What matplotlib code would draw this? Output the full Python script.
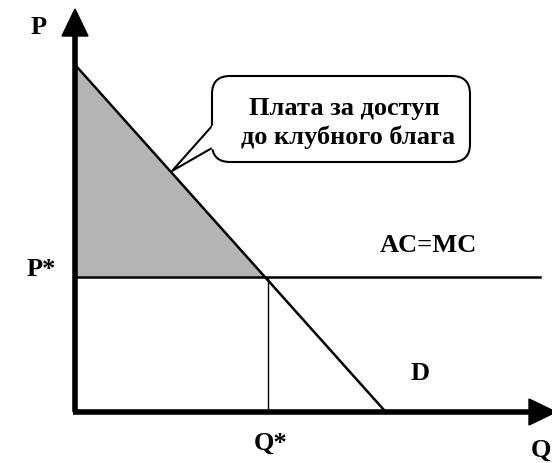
import matplotlib.pyplot as plt
import numpy as np
from matplotlib.patches import FancyBboxPatch, Polygon

# demand line (Q, P) in picture units
demand_q = [77, 384]
demand_p = [68, 411]
p_star = 278
q_star = 268
ac_mc_end = 540

callout_lines = ['Плата за доступ', 'до клубного блага']

fig = plt.figure(figsize=(5.52, 4.64), dpi=100)
ax = fig.add_axes([0, 0, 1, 1])
ax.set_xlim(0, 552)
ax.set_ylim(464, 0)
ax.axis('off')

font = dict(family=['Liberation Serif', 'DejaVu Serif'], weight='bold', fontsize=19)

# shaded area under demand, above P*
q_cross = np.interp(p_star, demand_p, demand_q)
ax.fill([75, 75, q_cross], [demand_p[0], p_star, p_star],
        facecolor='#b4b4b4', linewidth=0, zorder=1)

# axes with arrows
ax.plot([75, 75], [413, 35], color='black', lw=4, solid_capstyle='butt', zorder=4)
ax.plot([73, 530], [413, 413], color='black', lw=4, solid_capstyle='butt', zorder=4)
ax.add_patch(Polygon([[62, 37], [88, 37], [75, 10]], closed=True, color='black', zorder=4))
ax.add_patch(Polygon([[529, 400], [529, 426], [556, 413]], closed=True, color='black',
                     clip_on=False, zorder=4))

# lines
ax.plot(demand_q, demand_p, color='black', lw=1.8, zorder=3)
ax.plot([75, ac_mc_end], [p_star, p_star], color='black', lw=1.8, zorder=3)
ax.plot([q_star, q_star], [p_star, 413], color='black', lw=1, zorder=3)

# callout
box = FancyBboxPatch((212, 77), 258, 86, boxstyle='round,pad=0,rounding_size=18',
                     facecolor='white', edgecolor='black', lw=1.5, zorder=5)
ax.add_patch(box)
ax.add_patch(Polygon([[212, 127], [172, 172], [212, 149]], closed=False,
                     facecolor='white', edgecolor='black', lw=1.5, zorder=5))
ax.plot([213, 213], [128, 148], color='white', lw=2.5, zorder=6)
ax.text(344, 108, callout_lines[0], ha='center', va='center', zorder=7, **font)
ax.text(348, 137, callout_lines[1], ha='center', va='center', zorder=7, **font)

# labels
ax.text(39, 27, 'P', ha='center', va='center', **font)
ax.text(41, 270, 'P*', ha='center', va='center', **font)
ax.text(271, 443, 'Q*', ha='center', va='center', **font)
ax.text(551, 450, 'Q', ha='right', va='center', **font)
ax.text(428, 246, 'AC=MC', ha='center', va='center', **font)
ax.text(420, 374, 'D', ha='center', va='center', **font)

fig.savefig('out.png', dpi=100)
